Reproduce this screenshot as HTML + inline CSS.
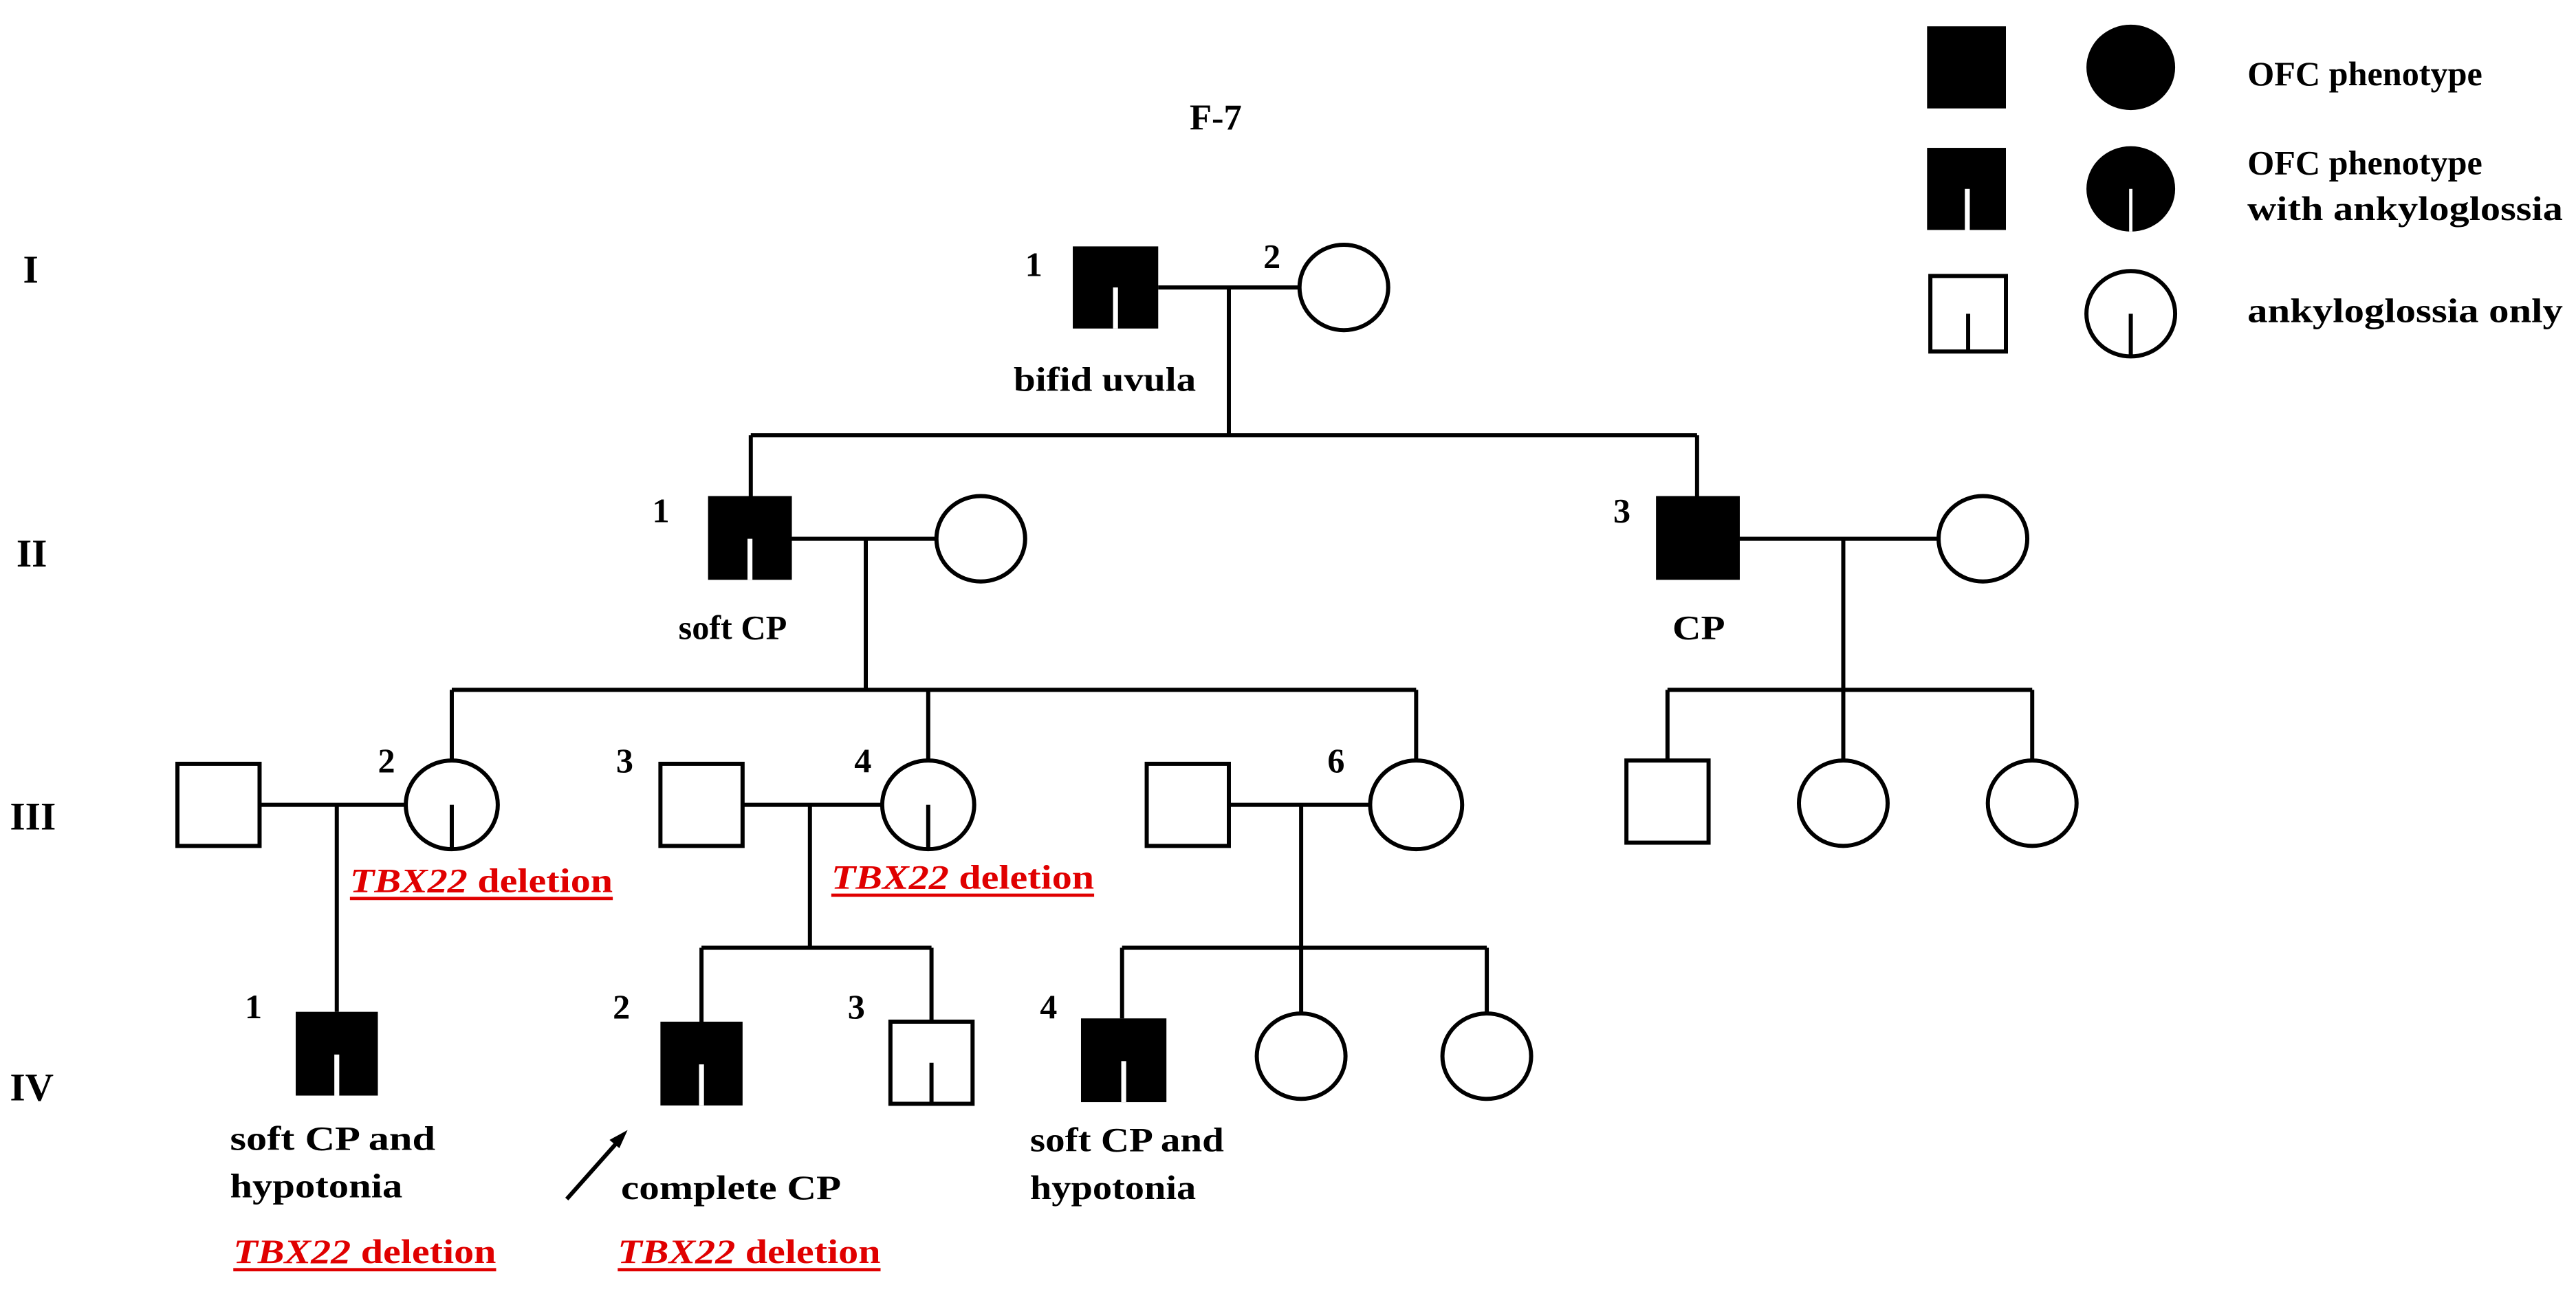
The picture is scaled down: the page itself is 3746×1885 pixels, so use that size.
<!DOCTYPE html>
<html><head><meta charset="utf-8"><style>
html,body{margin:0;padding:0;background:#fff;width:3746px;height:1885px;overflow:hidden}
svg{display:block}
text{font-family:"Liberation Serif",serif;font-weight:bold;fill:#000}
</style></head><body>
<svg width="3746" height="1885" viewBox="0 0 1568 789" xmlns="http://www.w3.org/2000/svg">
<g stroke="#000" stroke-width="2.5" fill="none">
<line x1="705" y1="175" x2="791" y2="175"/>
<line x1="748" y1="175" x2="748" y2="265"/>
<line x1="457" y1="265" x2="1033" y2="265"/>
<line x1="457" y1="265" x2="457" y2="302"/>
<line x1="1033" y1="265" x2="1033" y2="302"/>
<ellipse cx="818" cy="175" rx="27" ry="26" fill="#fff"/>
<line x1="482" y1="328" x2="571" y2="328"/>
<line x1="527" y1="328" x2="527" y2="420"/>
<ellipse cx="597" cy="328" rx="27" ry="26" fill="#fff"/>
<line x1="1059" y1="328" x2="1180" y2="328"/>
<line x1="1122" y1="328" x2="1122" y2="420"/>
<ellipse cx="1207" cy="328" rx="27" ry="26" fill="#fff"/>
<line x1="275" y1="420" x2="862" y2="420"/>
<line x1="275" y1="420" x2="275" y2="463"/>
<line x1="565" y1="420" x2="565" y2="463"/>
<line x1="862" y1="420" x2="862" y2="463"/>
<line x1="1015" y1="420" x2="1237" y2="420"/>
<line x1="1015" y1="420" x2="1015" y2="463"/>
<line x1="1122" y1="420" x2="1122" y2="463"/>
<line x1="1237" y1="420" x2="1237" y2="463"/>
<rect x="108" y="465" width="50" height="50" fill="#fff"/>
<line x1="158" y1="490" x2="247" y2="490"/>
<line x1="205" y1="490" x2="205" y2="616"/>
<ellipse cx="275" cy="490" rx="28" ry="27" fill="#fff"/>
<line x1="275" y1="490" x2="275" y2="517"/>
<rect x="402" y="465" width="50" height="50" fill="#fff"/>
<line x1="452" y1="490" x2="537" y2="490"/>
<line x1="493" y1="490" x2="493" y2="577"/>
<ellipse cx="565" cy="490" rx="28" ry="27" fill="#fff"/>
<line x1="565" y1="490" x2="565" y2="517"/>
<rect x="698" y="465" width="50" height="50" fill="#fff"/>
<line x1="748" y1="490" x2="834" y2="490"/>
<line x1="792" y1="490" x2="792" y2="577"/>
<ellipse cx="862" cy="490" rx="28" ry="27" fill="#fff"/>
<rect x="990" y="463" width="50" height="50" fill="#fff"/>
<ellipse cx="1122" cy="489" rx="27" ry="26" fill="#fff"/>
<ellipse cx="1237" cy="489" rx="27" ry="26" fill="#fff"/>
<line x1="427" y1="577" x2="567" y2="577"/>
<line x1="427" y1="577" x2="427" y2="622"/>
<line x1="567" y1="577" x2="567" y2="622"/>
<line x1="683" y1="577" x2="905" y2="577"/>
<line x1="683" y1="577" x2="683" y2="620"/>
<line x1="792" y1="577" x2="792" y2="617"/>
<line x1="905" y1="577" x2="905" y2="617"/>
<rect x="542" y="622" width="50" height="50" fill="#fff"/>
<line x1="567" y1="647" x2="567" y2="672"/>
<ellipse cx="792" cy="643" rx="27" ry="26" fill="#fff"/>
<ellipse cx="905" cy="643" rx="27" ry="26" fill="#fff"/>
<line x1="345" y1="730" x2="377" y2="694"/>
<rect x="1175" y="168" width="46" height="46" fill="#fff"/>
<line x1="1198" y1="191" x2="1198" y2="214"/>
<ellipse cx="1297" cy="191" rx="27" ry="26" fill="#fff"/>
<line x1="1297" y1="191" x2="1297" y2="217"/>
</g>
<polygon points="382,688 371,694 377,699" fill="#000"/>
<g fill="#000">
<rect x="653" y="150" width="52" height="50"/>
<rect x="431" y="302" width="51" height="51"/>
<rect x="1008" y="302" width="51" height="51"/>
<rect x="180" y="616" width="50" height="51"/>
<rect x="402" y="622" width="50" height="51"/>
<rect x="658" y="620" width="52" height="51"/>
<rect x="1173" y="16" width="48" height="50"/>
<ellipse cx="1297" cy="41" rx="27" ry="26"/>
<rect x="1173" y="90" width="48" height="50"/>
<ellipse cx="1297" cy="115" rx="27" ry="26"/>
</g>
<g fill="#fff">
<rect x="677.5" y="175" width="3" height="25"/>
<rect x="455" y="328" width="3" height="25"/>
<rect x="203.5" y="642" width="3" height="25"/>
<rect x="425.5" y="648" width="3" height="25"/>
<rect x="682.5" y="646" width="3" height="25"/>
<rect x="1196" y="115" width="3" height="25"/>
<rect x="1296" y="115" width="2" height="26"/>
</g>
<text x="740" y="79" font-size="22" text-anchor="middle">F-7</text>
<text x="14" y="172" font-size="24">I</text>
<text x="10" y="345" font-size="24">II</text>
<text x="6" y="505" font-size="24">III</text>
<text x="6" y="670" font-size="24">IV</text>
<g font-size="21">
<text x="624" y="168">1</text>
<text x="769" y="163">2</text>
<text x="397" y="318">1</text>
<text x="982" y="318">3</text>
<text x="230" y="470">2</text>
<text x="375" y="470">3</text>
<text x="520" y="470">4</text>
<text x="808" y="470">6</text>
<text x="149" y="620">1</text>
<text x="373" y="620">2</text>
<text x="516" y="620">3</text>
<text x="633" y="620">4</text>
</g>
<g font-size="21">
<text x="617" y="238" textLength="111" lengthAdjust="spacingAndGlyphs">bifid uvula</text>
<text x="413" y="389" textLength="66" lengthAdjust="spacingAndGlyphs">soft CP</text>
<text x="1018" y="389" textLength="32" lengthAdjust="spacingAndGlyphs">CP</text>
<text x="140" y="700" textLength="125" lengthAdjust="spacingAndGlyphs">soft CP and</text>
<text x="140" y="729" textLength="105" lengthAdjust="spacingAndGlyphs">hypotonia</text>
<text x="378" y="730" textLength="134" lengthAdjust="spacingAndGlyphs">complete CP</text>
<text x="627" y="701" textLength="118" lengthAdjust="spacingAndGlyphs">soft CP and</text>
<text x="627" y="730" textLength="101" lengthAdjust="spacingAndGlyphs">hypotonia</text>
</g>
<g font-size="21">
<text style="fill:#e00000" x="213" y="543" textLength="160" lengthAdjust="spacingAndGlyphs"><tspan font-style="italic">TBX22</tspan> deletion</text>
<text style="fill:#e00000" x="506" y="541" textLength="160" lengthAdjust="spacingAndGlyphs"><tspan font-style="italic">TBX22</tspan> deletion</text>
<text style="fill:#e00000" x="142" y="769" textLength="160" lengthAdjust="spacingAndGlyphs"><tspan font-style="italic">TBX22</tspan> deletion</text>
<text style="fill:#e00000" x="376" y="769" textLength="160" lengthAdjust="spacingAndGlyphs"><tspan font-style="italic">TBX22</tspan> deletion</text>
</g>
<g fill="#e00000">
<rect x="213" y="546" width="160" height="2"/>
<rect x="506" y="544" width="160" height="2"/>
<rect x="142" y="772" width="160" height="2"/>
<rect x="376" y="772" width="160" height="2"/>
</g>
<g font-size="21">
<text x="1368" y="52" textLength="143" lengthAdjust="spacingAndGlyphs">OFC phenotype</text>
<text x="1368" y="106" textLength="143" lengthAdjust="spacingAndGlyphs">OFC phenotype</text>
<text x="1368" y="134" textLength="192" lengthAdjust="spacingAndGlyphs">with ankyloglossia</text>
<text x="1368" y="196" textLength="192" lengthAdjust="spacingAndGlyphs">ankyloglossia only</text>
</g>
</svg>
</body></html>
